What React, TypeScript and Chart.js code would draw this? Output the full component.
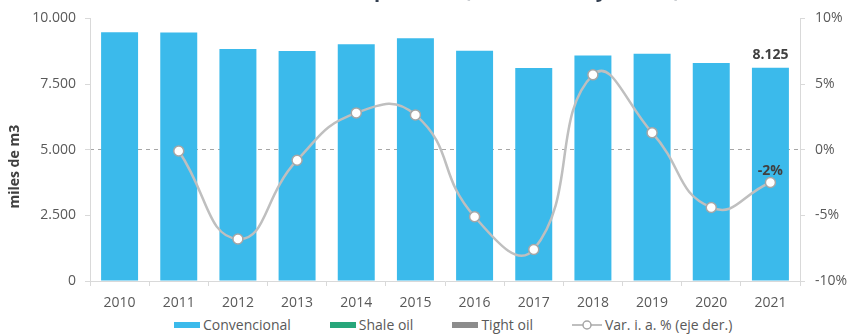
import React, { useEffect, useRef } from 'react';
import { Chart, registerables } from 'chart.js';

Chart.register(...registerables);

const years = ['2010', '2011', '2012', '2013', '2014', '2015', '2016', '2017', '2018', '2019', '2020', '2021'];
const convencional = [9470, 9460, 8830, 8755, 9020, 9245, 8770, 8110, 8590, 8650, 8300, 8125];
const shaleOil = [0, 0, 0, 0, 0, 0, 0, 0, 0, 0, 0, 0];
const tightOil = [0, 0, 0, 0, 0, 0, 0, 0, 0, 0, 0, 0];
const variacionIA: (number | null)[] = [null, -0.1, -6.8, -0.8, 2.8, 2.65, -5.1, -7.6, 5.7, 1.3, -4.4, -2.5];
const leftTicks = [0, 2500, 5000, 7500, 10000];
const rightTicks = [-10, -5, 0, 5, 10];
const seriesNames = ['Convencional', 'Shale oil', 'Tight oil', 'Var. i. a. % (eje der.)'];
const yAxisTitle = 'miles de m3';
const chartTitleLead = 'Producción de ';
const chartTitle = 'Producción de petróleo (miles de m3 y var. %)';

const COLORS = {
  conv: '#3BBAEB',
  shale: '#27A67A',
  tight: '#8C8C8C',
  line: '#BFBFBF',
  pointBorder: '#A6A6A6',
  axis: '#D9D9D9',
  tick: '#595959',
  label: '#404040',
  title: '#333F50',
};

const FONT = '"Open Sans", "DejaVu Sans", sans-serif';

function fmtThousands(n: number): string {
  return String(Math.round(n)).replace(/\B(?=(\d{3})+(?!\d))/g, '.');
}

const overlayPlugin = {
  id: 'overlayText',
  afterDraw(chart: any) {
    const ctx = chart.ctx as CanvasRenderingContext2D;
    const area = chart.chartArea;
    ctx.save();
    // title, mostly clipped above the top edge
    ctx.font = `bold 20px ${FONT}`;
    ctx.fillStyle = COLORS.title;
    ctx.textAlign = 'left';
    ctx.textBaseline = 'alphabetic';
    const startX = 374 - ctx.measureText(chartTitleLead).width;
    ctx.fillText(chartTitle, startX, -3);

    // y axis title
    ctx.save();
    ctx.translate(15, (area.top + area.bottom) / 2 + 17);
    ctx.rotate(-Math.PI / 2);
    ctx.font = `bold 14px ${FONT}`;
    ctx.fillStyle = COLORS.label;
    ctx.textAlign = 'center';
    ctx.textBaseline = 'middle';
    ctx.fillText(yAxisTitle, 0, 0);
    ctx.restore();

    // value labels for the last year
    const last = years.length - 1;
    const bar = chart.getDatasetMeta(0).data[last];
    const pt = chart.getDatasetMeta(3).data[last];
    ctx.font = `bold 14px ${FONT}`;
    ctx.fillStyle = COLORS.label;
    ctx.textAlign = 'center';
    ctx.textBaseline = 'alphabetic';
    if (bar) ctx.fillText(fmtThousands(convencional[last]), bar.x, bar.y - 9);
    const v = variacionIA[last];
    if (pt && v !== null) ctx.fillText(`${Math.round(v)}%`, pt.x, pt.y - 8);
    ctx.restore();
  },
};

export default function App() {
  const canvasRef = useRef<HTMLCanvasElement | null>(null);

  useEffect(() => {
    if (!canvasRef.current) return;
    const tickFont = { family: FONT, size: 14 };
    const chart = new Chart(canvasRef.current, {
      type: 'bar',
      data: {
        labels: years,
        datasets: [
          { type: 'bar', label: seriesNames[0], data: convencional, backgroundColor: COLORS.conv, borderWidth: 0, yAxisID: 'y', order: 1, barPercentage: 0.625, categoryPercentage: 1 },
          { type: 'bar', label: seriesNames[1], data: shaleOil, backgroundColor: COLORS.shale, borderWidth: 0, yAxisID: 'y', order: 1, barPercentage: 0.625, categoryPercentage: 1 },
          { type: 'bar', label: seriesNames[2], data: tightOil, backgroundColor: COLORS.tight, borderWidth: 0, yAxisID: 'y', order: 1, barPercentage: 0.625, categoryPercentage: 1 },
          {
            type: 'line',
            label: seriesNames[3],
            data: variacionIA,
            yAxisID: 'y1',
            order: -1,
            borderColor: COLORS.line,
            borderWidth: 2.5,
            tension: 0.5,
            pointRadius: 5,
            pointBackgroundColor: '#FFFFFF',
            pointBorderColor: COLORS.pointBorder,
            pointBorderWidth: 1.5,
            fill: false,
          } as any,
        ],
      },
      options: {
        animation: false,
        responsive: true,
        maintainAspectRatio: false,
        layout: { padding: { top: 17, left: 0, right: 0, bottom: 0 } },
        plugins: {
          legend: { display: false },
          tooltip: { enabled: false },
          title: { display: false },
        },
        scales: {
          x: {
            stacked: true,
            grid: { offset: true, drawOnChartArea: false, tickLength: 5, color: COLORS.axis },
            border: { color: COLORS.axis },
            ticks: { padding: 9, font: tickFont, color: COLORS.tick, maxRotation: 0, autoSkip: false },
            afterFit: (s: any) => { s.height = 33; },
          },
          y: {
            position: 'left',
            stacked: true,
            min: leftTicks[0],
            max: leftTicks[leftTicks.length - 1],
            ticks: {
              stepSize: leftTicks[1] - leftTicks[0],
              padding: 9,
              font: tickFont,
              color: COLORS.tick,
              callback: (v: any) => fmtThousands(Number(v)),
            },
            grid: { drawOnChartArea: false, tickLength: 5, color: COLORS.axis },
            border: { color: COLORS.axis },
            afterFit: (s: any) => { s.width = 90; },
          },
          y1: {
            position: 'right',
            stacked: false,
            min: rightTicks[0],
            max: rightTicks[rightTicks.length - 1],
            ticks: {
              stepSize: rightTicks[1] - rightTicks[0],
              padding: 10,
              font: tickFont,
              color: COLORS.tick,
              callback: (v: any) => `${v}%`,
            },
            grid: {
              color: (c: any) => (c.tick && c.tick.value === 0 ? '#A6A6A6' : 'rgba(0,0,0,0)'),
              tickColor: COLORS.axis,
              tickLength: 5,
              lineWidth: 1,
            },
            border: { color: COLORS.axis, dash: [4, 4] },
            afterFit: (s: any) => { s.width = 50; },
          },
        },
      } as any,
      plugins: [overlayPlugin],
    });
    return () => chart.destroy();
  }, []);

  const legendItem = (swatch: React.ReactNode, text: string) => (
    <div style={{ display: 'flex', alignItems: 'center', marginRight: 39 }}>
      {swatch}
      <span style={{ marginLeft: 3, whiteSpace: 'nowrap' }}>{text}</span>
    </div>
  );
  const box = (color: string) => (
    <span style={{ display: 'inline-block', width: 26, height: 6, background: color }} />
  );

  return (
    <div style={{ position: 'fixed', left: 0, top: 0, width: 850, height: 334, background: '#FFFFFF', overflow: 'hidden' }}>
      <div style={{ position: 'absolute', left: 0, top: 0, width: 850, height: 314 }}>
        <canvas ref={canvasRef} />
      </div>
      <div
        style={{
          position: 'absolute',
          left: 174,
          top: 317,
          height: 16,
          display: 'flex',
          alignItems: 'center',
          fontFamily: FONT,
          fontSize: 14,
          color: COLORS.tick,
          lineHeight: '16px',
        }}
      >
        {legendItem(box(COLORS.conv), seriesNames[0])}
        {legendItem(box(COLORS.shale), seriesNames[1])}
        {legendItem(box(COLORS.tight), seriesNames[2])}
        {legendItem(
          <svg width={30} height={10} style={{ display: 'block' }}>
            <line x1={0} y1={5} x2={30} y2={5} stroke={COLORS.line} strokeWidth={2} />
            <circle cx={15} cy={5} r={4} fill="#FFFFFF" stroke={COLORS.pointBorder} strokeWidth={1.5} />
          </svg>,
          seriesNames[3]
        )}
      </div>
    </div>
  );
}
